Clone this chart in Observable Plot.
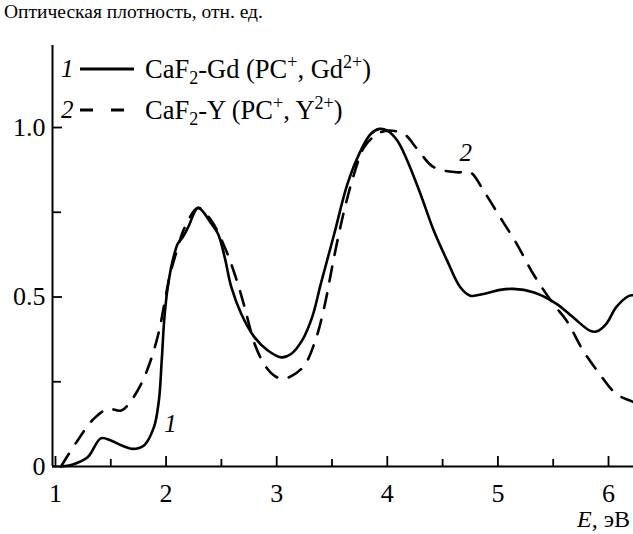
<!DOCTYPE html>
<html>
<head>
<meta charset="utf-8">
<script src="https://cdn.jsdelivr.net/npm/d3@7"></script>
<script src="https://cdn.jsdelivr.net/npm/@observablehq/plot@0.6"></script>
<style>
  body { margin: 0; background: #fff; }
  #wrap { position: relative; width: 633px; height: 534px; font-family: "Liberation Serif", "Times New Roman", "DejaVu Serif", serif; color: #000; }
  #wrap > svg { position: absolute; left: 0; top: 0; }
  .t { position: absolute; white-space: nowrap; }
  .leg sub, .leg sup { font-size: 18px; line-height: 0; }
  .leg { position: absolute; left: 61px; font-size: 26.5px; white-space: nowrap; display: flex; align-items: center; height: 30px; }
  .leg i { width: 16px; display: inline-block; font-size: 25px; }
  .leg svg { display: block; }
</style>
</head>
<body>
<div id="wrap"></div>
<script>
// Curve 1: CaF2-Gd (solid)
const solidE = [1.05,1.15,1.29,1.41,1.5,1.6,1.7,1.8,1.89,1.935,1.96,1.985,2.015,2.06,2.105,2.15,2.2,2.29,2.41,2.47,2.53,2.59,2.68,2.8,2.92,3.04,3.13,3.23,3.32,3.40,3.52,3.64,3.76,3.85,3.93,4.0,4.09,4.18,4.3,4.42,4.54,4.66,4.75,4.87,5.02,5.14,5.32,5.53,5.68,5.83,5.89,5.98,6.07,6.19,6.226];
const solidV = [0,0.005,0.027,0.083,0.077,0.062,0.052,0.062,0.116,0.195,0.31,0.44,0.529,0.608,0.657,0.676,0.706,0.763,0.716,0.686,0.617,0.529,0.45,0.381,0.342,0.322,0.332,0.372,0.44,0.54,0.686,0.834,0.932,0.981,0.996,0.991,0.962,0.903,0.804,0.696,0.608,0.529,0.504,0.509,0.521,0.524,0.514,0.48,0.44,0.401,0.398,0.421,0.47,0.504,0.505];
// Curve 2: CaF2-Y (dashed)
const dashE = [1.05,1.2,1.35,1.475,1.595,1.685,1.775,1.85,1.93,1.99,2.03,2.1,2.17,2.29,2.41,2.53,2.62,2.71,2.8,2.89,2.97,3.05,3.14,3.25,3.35,3.43,3.52,3.61,3.70,3.79,3.91,4.0,4.15,4.27,4.42,4.63,4.75,4.87,5.02,5.17,5.32,5.5,5.62,5.77,5.92,6.07,6.19,6.226];
const dashV = [0,0.077,0.142,0.17,0.165,0.195,0.244,0.303,0.391,0.49,0.558,0.64,0.706,0.763,0.725,0.647,0.568,0.47,0.362,0.3,0.27,0.258,0.268,0.298,0.372,0.47,0.62,0.755,0.863,0.942,0.981,0.991,0.981,0.937,0.883,0.868,0.868,0.814,0.735,0.657,0.568,0.48,0.431,0.342,0.273,0.214,0.195,0.19];

const xTicks = [1,2,3,4,5,6];
const xMinor = [1.5,2.5,3.5,4.5,5.5];
const yTicks = [0,0.5,1.0];
const yMinor = [0.25,0.75];
const yTickLabels = ["0","0.5","1.0"];
const curveLabelText = ["1","2"];
const curveLabelE = [2.04, 4.71];
const curveLabelV = [0.124, 0.925];

const title = "Оптическая плотность, отн. ед.";
const legendNames = ["CaF<sub>2</sub>-Gd (PC<sup>+</sup>, Gd<sup>2+</sup>)", "CaF<sub>2</sub>-Y (PC<sup>+</sup>, Y<sup>2+</sup>)"];
const xLabelHtml = "<i>E</i>, эВ";

const xMin = 0.973, xMax = 6.226, yMax = 1.242;

const solid = solidE.map((e,i)=>({E:e, v:solidV[i]}));
const dashed = dashE.map((e,i)=>({E:e, v:dashV[i]}));
const labels = curveLabelText.map((t,i)=>({t, E:curveLabelE[i], v:curveLabelV[i]}));

const font = "'Liberation Serif', 'Times New Roman', 'DejaVu Serif', serif";
const W = 633, H = 534, mT = 45, mB = 68, mL = 52, mR = 0;
const innerH = H - mT - mB, innerW = W - mL - mR;
const chart = Plot.plot({
  width: W, height: H,
  marginTop: mT, marginBottom: mB, marginLeft: mL, marginRight: mR,
  style: {fontFamily: font, fontSize: "26px", background: "white", color: "black"},
  x: {domain: [xMin, xMax], axis: null},
  y: {domain: [0, yMax], axis: null},
  marks: [
    Plot.ruleX([xMin], {stroke: "black", strokeWidth: 2}),
    Plot.ruleY([0], {stroke: "black", strokeWidth: 2}),
    // inward ticks
    Plot.tickX(xTicks, {x: d => d, insetTop: innerH - 10, stroke: "black", strokeWidth: 1.8}),
    Plot.tickX(xMinor, {x: d => d, insetTop: innerH - 7, stroke: "black", strokeWidth: 1.8}),
    Plot.tickY(yTicks, {y: d => d, insetRight: innerW - 10, stroke: "black", strokeWidth: 1.8}),
    Plot.tickY(yMinor, {y: d => d, insetRight: innerW - 9, stroke: "black", strokeWidth: 1.8}),
    // tick labels
    Plot.text(xTicks, {x: d => d, y: () => 0, text: d => String(d), dy: 27, fontSize: 26, fontFamily: font}),
    Plot.text(yTicks, {x: () => xMin, y: d => d, text: (d, i) => yTickLabels[i], dx: -7, textAnchor: "end", fontSize: 26, fontFamily: font}),
    Plot.line(solid, {x: "E", y: "v", curve: "catmull-rom", stroke: "black", strokeWidth: 2.6}),
    Plot.line(dashed, {x: "E", y: "v", curve: "catmull-rom", stroke: "black", strokeWidth: 2.6, strokeDasharray: "15,12"}),
    Plot.text(labels, {x: "E", y: "v", text: "t", fontStyle: "italic", fontSize: 25, fontFamily: font})
  ]
});

const wrap = document.getElementById("wrap");
wrap.appendChild(chart);

function addDiv(cls, html, css) {
  const d = document.createElement("div");
  d.className = cls; d.innerHTML = html; Object.assign(d.style, css);
  wrap.appendChild(d); return d;
}
addDiv("t", title, {left: "4px", top: "1px", fontSize: "19.5px"});
const dashes = ["", "13,18"];
legendNames.forEach((n, i) => {
  const sw = `<svg width="58" height="10" style="margin:0 8px 0 2px"><line x1="1" y1="5" x2="55" y2="5" stroke="black" stroke-width="2.8" ${dashes[i] ? `stroke-dasharray="${dashes[i]}"` : ""}/></svg>`;
  addDiv("leg", `<i>${i+1}</i>${sw}<span>${n}</span>`, {top: (54 + i*41) + "px"});
});
addDiv("t", xLabelHtml, {right: "3px", top: "506px", fontSize: "24px"});
</script>
</body>
</html>
